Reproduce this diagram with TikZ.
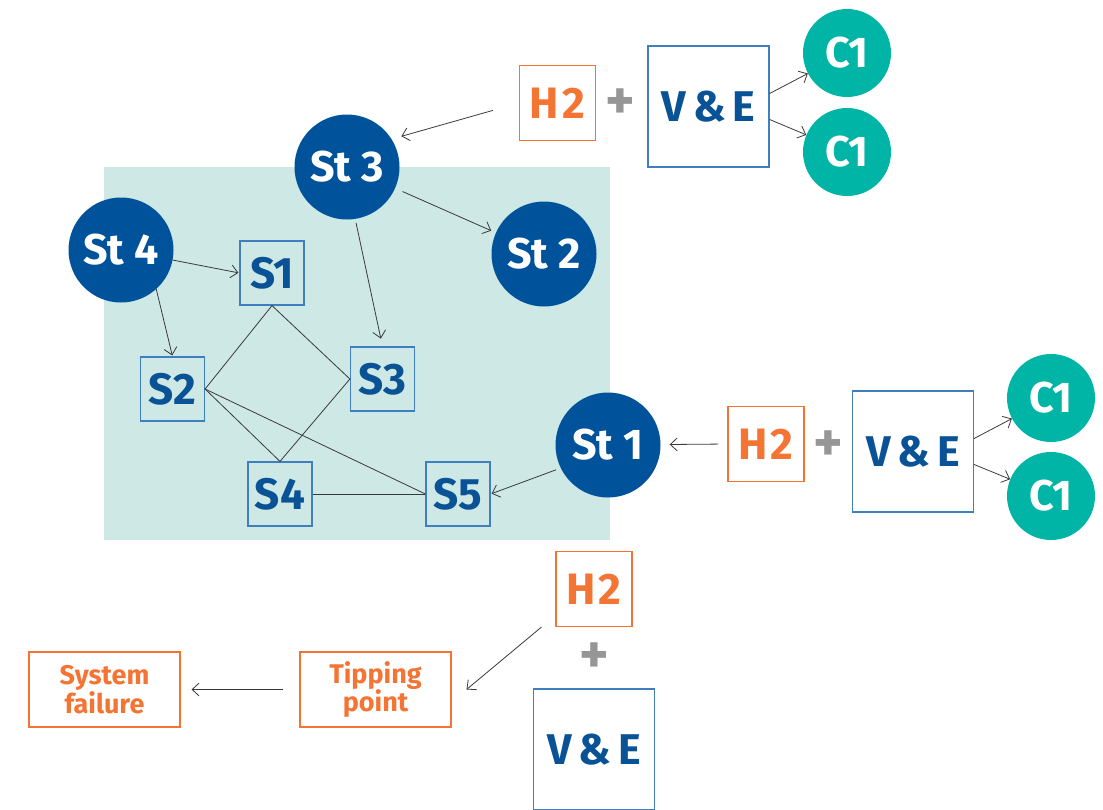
\documentclass[tikz,border=0pt]{standalone}
\usepackage{fontspec}
\setmainfont{Fira Sans}
\usetikzlibrary{arrows.meta}
\definecolor{dblue}{HTML}{00539A}
\definecolor{tblue}{HTML}{0A5296}
\definecolor{sbox}{HTML}{3F7FBF}
\definecolor{orng}{HTML}{F47433}
\definecolor{teal1}{HTML}{00B5A6}
\definecolor{bg}{HTML}{CDE8E5}
\definecolor{plusg}{HTML}{969696}
\definecolor{lineg}{HTML}{3A3A3A}
\newcommand{\vande}{V\kern7pt\&\kern7pt E}
\begin{document}
\begin{tikzpicture}[x=1pt,y=-1pt,
 big/.style={font=\fontsize{43}{43}\selectfont\bfseries},
 stc/.style={circle,fill=dblue,text=white,minimum size=105pt,inner sep=0pt,big},
 cc/.style={circle,fill=teal1,text=white,minimum size=88pt,inner sep=0pt,big},
 sb/.style={draw=sbox,line width=1.2pt,text=tblue,minimum size=64pt,inner sep=0pt,font=\fontsize{44}{44}\selectfont\bfseries},
 hb/.style={draw=orng,line width=1.1pt,text=orng,minimum width=76pt,minimum height=75pt,inner sep=0pt,font=\fontsize{44}{44}\selectfont\bfseries},
 veb/.style={draw=sbox,line width=1.2pt,text=tblue,minimum width=121pt,minimum height=121pt,inner sep=0pt,big},
 ob/.style={draw=orng,line width=1.1pt,text=orng,minimum width=151pt,minimum height=75pt,inner sep=0pt,align=center,font=\fontsize{27}{25}\selectfont\bfseries},
 pl/.style={text=plusg,font=\fontsize{56}{56}\selectfont\bfseries,inner sep=0pt},
 arr/.style={draw=lineg,line width=0.8pt,-{Straight Barb[length=7pt,width=13pt]}},
 ln/.style={draw=lineg,line width=0.8pt}]
\useasboundingbox (0,0) rectangle (1103,809);
\fill[bg] (104,167) rectangle (610,540);
% circles
\node[stc] (st3) at (347,167) {St 3};
\node[stc] (st4) at (121,250) {St 4};
\node[stc] (st2) at (544,254) {St 2};
\node[stc] (st1) at (608,445) {St 1};
% S boxes
\node[sb] (s1) at (272,273) {S1};
\node[sb] (s2) at (172.5,389) {S2};
\node[sb] (s3) at (382.5,379) {S3};
\node[sb] (s4) at (280,494) {S4};
\node[sb] (s5) at (458,494) {S5};
% top group
\node[hb] (h2a) at (557.5,103) {H\kern3pt 2};
\node[pl] (pa) at (620,104) {+};
\node[veb] (ve1) at (708.5,106.5) {\vande};
\node[cc] (c1a) at (847,53) {C1};
\node[cc] (c1b) at (847,152) {C1};
% right group
\node[hb] (h2b) at (766,444) {H\kern3pt 2};
\node[pl] (pb) at (828,446) {+};
\node[veb] (ve2) at (913,451.5) {\vande};
\node[cc] (c1c) at (1051,398) {C1};
\node[cc] (c1d) at (1051,496) {C1};
% bottom group
\node[hb] (h2c) at (594,589) {H\kern3pt 2};
\node[pl] (pc) at (594,658) {+};
\node[veb] (ve3) at (594,749.5) {\vande};
\node[ob] (tip) at (375.5,689.5) {Tipping\\point};
\node[ob] (sys) at (104.5,689.5) {System\\failure};
% plain lines
\draw[ln] (s1.south) -- (s3.west) -- (s4.north) -- (s2.east) -- cycle;
\draw[ln] (s2.east) -- (s5.west);
\draw[ln] (s4.east) -- (s5.west);
% arrows
\draw[arr,shorten <=27pt,shorten >=10pt] (h2a.west) -- (st3.32);
\draw[arr] (ve1.12) -- (c1a);
\draw[arr] (ve1.-12) -- (c1b);
\draw[arr,shorten <=8pt,shorten >=5pt] (st3) -- (st2);
\draw[arr,shorten <=4pt,shorten >=8pt] (st3.-81) -- (s3.north);
\draw[arr,shorten >=1pt] (st4) -- (s1.west);
\draw[arr,shorten >=1pt] (st4.-48) -- (s2.north);
\draw[arr,shorten <=5pt,shorten >=1pt] (st1.206) -- (s5.east);
\draw[arr,shorten <=9pt,shorten >=9pt] (h2b.west) -- (st1);
\draw[arr] (ve2.12) -- (c1c);
\draw[arr] (ve2.-12) -- (c1d);
\draw[arr] ([xshift=-14pt]h2c.south west) -- ([xshift=15pt]tip.east);
\draw[arr,shorten <=16pt,shorten >=11pt] (tip.west) -- (sys.east);
\end{tikzpicture}
\end{document}
